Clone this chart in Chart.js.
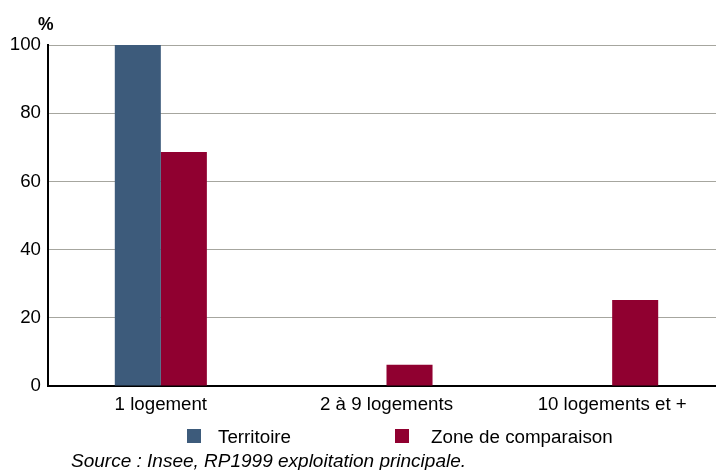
<!DOCTYPE html>
<html>
<head>
<meta charset="utf-8">
<script src="https://cdn.jsdelivr.net/npm/chart.js@4"></script>
<style>
  body { margin: 0; background: #fff; font-family: "Liberation Sans", Arial, sans-serif; }
  #wrap { position: relative; width: 716px; height: 470px; overflow: hidden; }
  #unit { position: absolute; left: 38px; top: 14px; font-weight: bold; font-size: 17.5px; }
  #legend { position: absolute; top: 428px; left: 0; width: 716px; height: 18px; }
  .lg-item { position: absolute; top: -1px; font-size: 18.8px; line-height: 19px; }
  .lg-box { position: absolute; top: 1px; width: 14px; height: 14px; }
  #source { position: absolute; left: 71px; top: 450px; font-style: italic; font-size: 19px; }
</style>
</head>
<body>
<div id="wrap">
  <canvas id="chart" width="725" height="470"></canvas>
  <div id="unit">%</div>
  <div id="legend"></div>
  <div id="source">Source : Insee, RP1999 exploitation principale.</div>
</div>
<script>
var categories = ['1 logement', '2 à 9 logements', '10 logements et +'];
var territoire = [100, 0, 0];
var zoneComparaison = [68.6, 6.2, 25.2];
var seriesNames = ['Territoire', 'Zone de comparaison'];
var seriesColors = ['#3d5b7b', '#900030'];
var yTicks = [0, 20, 40, 60, 80, 100];

var font = { family: '"Liberation Sans", Arial, sans-serif', size: 18.7 };

// plot area runs a little past the right edge of the picture, as in the source
var ctx = document.getElementById('chart');
var myChart = new Chart(ctx, {
  type: 'bar',
  data: {
    labels: categories,
    datasets: [{
      label: seriesNames[0],
      data: territoire,
      backgroundColor: seriesColors[0],
      borderWidth: 0
    }, {
      label: seriesNames[1],
      data: zoneComparaison,
      backgroundColor: seriesColors[1],
      borderWidth: 0
    }]
  },
  options: {
    responsive: false,
    animation: false,
    layout: { padding: { left: 0, right: 0, top: 45, bottom: 54 } },
    plugins: {
      legend: { display: false },
      title: { display: false },
      tooltip: { enabled: false }
    },
    datasets: {
      bar: { categoryPercentage: 0.408, barPercentage: 1 }
    },
    scales: {
      x: {
        grid: { display: false, drawTicks: false },
        border: { display: true, color: '#000', width: 2 },
        ticks: { color: '#000', font: font, padding: 8, maxRotation: 0 },
        afterFit: function (scale) { scale.height = 30; }
      },
      y: {
        min: 0,
        max: 100,
        afterBuildTicks: function (scale) {
          scale.ticks = yTicks.map(v => ({ value: v }));
        },
        grid: { color: '#a6a69f', lineWidth: 1, drawTicks: false },
        border: { display: true, color: '#000', width: 2 },
        ticks: { color: '#000', font: font, padding: 7 },
        afterFit: function (scale) { scale.width = 48; }
      }
    }
  }
});

// legend built from the series arrays
var legendPos = [[187, 218], [395, 431]];
var legend = document.getElementById('legend');
seriesNames.forEach((name, i) => {
  var box = document.createElement('div');
  box.className = 'lg-box';
  box.style.left = legendPos[i][0] + 'px';
  box.style.background = seriesColors[i];
  legend.appendChild(box);
  var txt = document.createElement('div');
  txt.className = 'lg-item';
  txt.style.left = legendPos[i][1] + 'px';
  txt.textContent = name;
  legend.appendChild(txt);
});
</script>
</body>
</html>
